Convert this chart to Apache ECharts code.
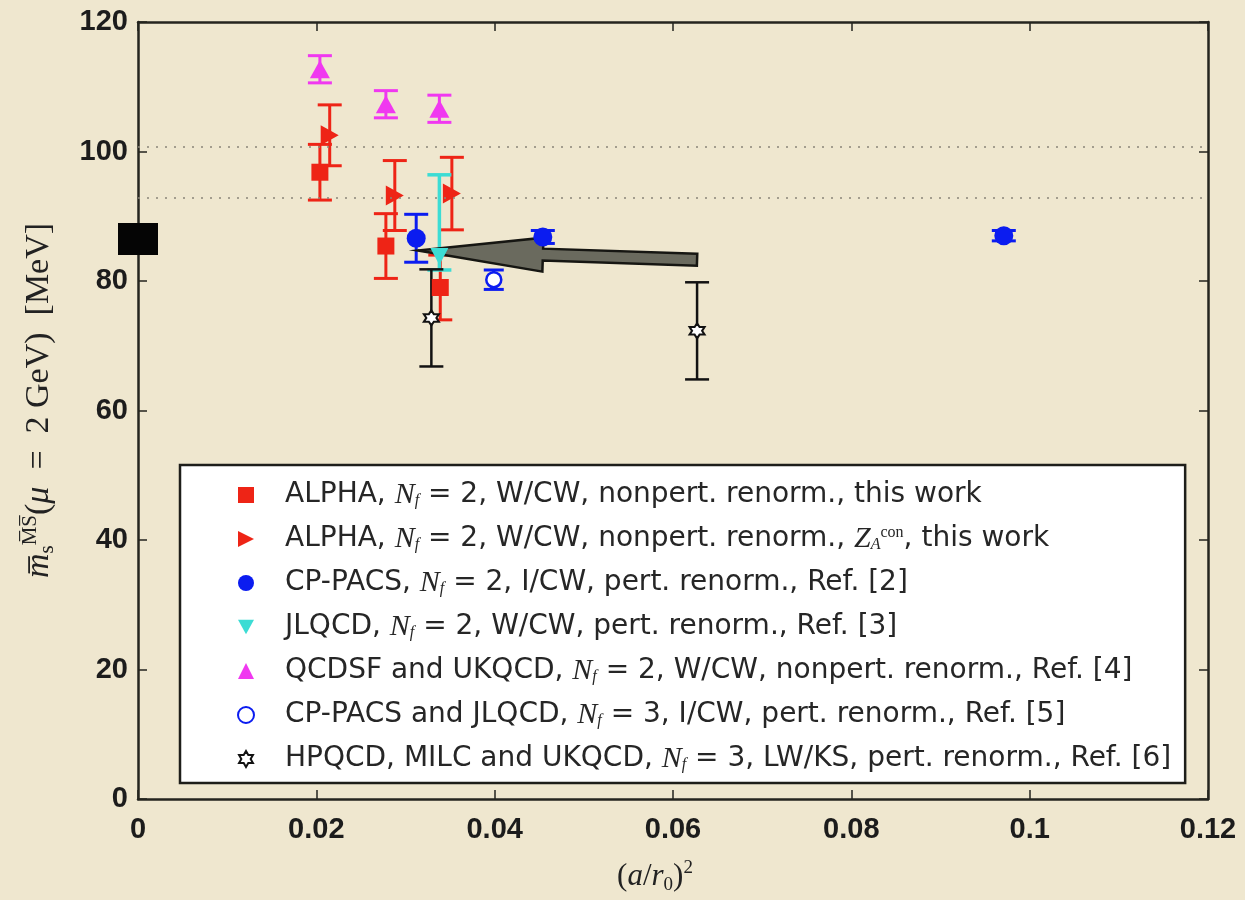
<!DOCTYPE html>
<html><head><meta charset="utf-8">
<script src="https://cdn.jsdelivr.net/npm/echarts@6/dist/echarts.min.js"></script>
<style>html,body{margin:0;padding:0;background:#efe7cf}#c{width:1245px;height:900px}</style>
</head><body><div id="c"></div>
<script>
// ---- data ----
const alphaX = [0.0204, 0.0278, 0.0339];
const alphaY = [96.8, 85.4, 79.0];
const alphaErr = [4.3, 5.0, 5.0];

const alphaZX = [0.0215, 0.0288, 0.0352];
const alphaZY = [102.5, 93.2, 93.5];
const alphaZErr = [4.7, 5.4, 5.6];

const cppacsX = [0.0312, 0.0454, 0.0971];
const cppacsY = [86.6, 86.8, 87.0];
const cppacsErr = [3.7, 1.0, 0.8];

const jlqcdX = [0.0338];
const jlqcdY = [83.8];
const jlqcdErrLo = [2.1];
const jlqcdErrHi = [12.6];

const qcdsfX = [0.0204, 0.0278, 0.0338];
const qcdsfY = [112.7, 107.3, 106.6];
const qcdsfErr = [2.1, 2.1, 2.1];

const nf3X = [0.0399];
const nf3Y = [80.2];
const nf3Err = [1.5];

const hpqcdX = [0.0329, 0.0627];
const hpqcdY = [74.3, 72.3];
const hpqcdErr = [7.5, 7.5];

const continuumX = [0];
const continuumY = [86.5];

const refLines = [100.7, 92.9];
const arrowFromTo = [[0.0627, 83.3, 0.0314, 84.7]];

const xTickLabels = ['0', '0.02', '0.04', '0.06', '0.08', '0.1', '0.12'];

const seriesNames = [
  'ALPHA, Nf=2, W/CW, nonpert. renorm., this work',
  'ALPHA, Nf=2, W/CW, nonpert. renorm., ZA con, this work',
  'CP-PACS, Nf=2, I/CW, pert. renorm., Ref. [2]',
  'JLQCD, Nf=2, W/CW, pert. renorm., Ref. [3]',
  'QCDSF and UKQCD, Nf=2, W/CW, nonpert. renorm., Ref. [4]',
  'CP-PACS and JLQCD, Nf=3, I/CW, pert. renorm., Ref. [5]',
  'HPQCD, MILC and UKQCD, Nf=3, LW/KS, pert. renorm., Ref. [6]'
];
const legendRich = [
  '{p|ALPHA, }{i|N}{sub|f}{t| = 2, W/CW, nonpert. renorm., this work}',
  '{p|ALPHA, }{i|N}{sub|f}{t| = 2, W/CW, nonpert. renorm., }{i|Z}{sub|A}{sup|con}{t|, this work}',
  '{p|CP-PACS, }{i|N}{sub|f}{t| = 2, I/CW, pert. renorm., Ref. [2]}',
  '{p|JLQCD, }{i|N}{sub|f}{t| = 2, W/CW, pert. renorm., Ref. [3]}',
  '{p|QCDSF and UKQCD, }{i|N}{sub|f}{t| = 2, W/CW, nonpert. renorm., Ref. [4]}',
  '{p|CP-PACS and JLQCD, }{i|N}{sub|f}{t| = 3, I/CW, pert. renorm., Ref. [5]}',
  '{p|HPQCD, MILC and UKQCD, }{i|N}{sub|f}{t| = 3, LW/KS, pert. renorm., Ref. [6]}'
];

// ---- helpers ----
const pts = (xs, ys) => xs.map((x, i) => [x, ys[i]]);
const errPts = (xs, ys, lo, hi) => xs.map((x, i) => [x, ys[i], lo[i], (hi || lo)[i]]);

const C = {red: '#ee2416', blue: '#0b1cf0', cyan: '#3cdcd4', mag: '#f038f0', black: '#121212'};

function errorBar(name, data, color, capHalf, width) {
  return {
    type: 'custom', name: name, z: 2, silent: true,
    encode: {x: 0, y: 1},
    data: data,
    renderItem: function (params, api) {
      const x = api.value(0), y = api.value(1), lo = api.value(2), hi = api.value(3);
      const top = api.coord([x, y + hi]);
      const bot = api.coord([x, y - lo]);
      const st = {stroke: color, lineWidth: width};
      return {type: 'group', children: [
        {type: 'line', shape: {x1: top[0], y1: top[1], x2: bot[0], y2: bot[1]}, style: st},
        {type: 'line', shape: {x1: top[0] - capHalf, y1: top[1], x2: top[0] + capHalf, y2: top[1]}, style: st},
        {type: 'line', shape: {x1: bot[0] - capHalf, y1: bot[1], x2: bot[0] + capHalf, y2: bot[1]}, style: st}
      ]};
    }
  };
}

const triRight = 'path://M0,0 L10,5 L0,10 Z';
const triDown = 'path://M0,0 L10,0 L5,9 Z';
const star6 = 'path://M5,0 L6.44,2.5 L9.33,2.5 L7.89,5 L9.33,7.5 L6.44,7.5 L5,10 L3.56,7.5 L0.67,7.5 L2.11,5 L0.67,2.5 L3.56,2.5 Z';

const chart = echarts.init(document.getElementById('c'), null, {renderer: 'canvas'});

const axisFont = {fontFamily: 'Liberation Sans', fontSize: 29, fontWeight: 'bold', color: '#1c1c1c'};
const serif = 'Liberation Serif';
const axisLineStyle = {color: '#25251f', width: 2.5};
const tickStyle = {show: true, inside: true, length: 9, lineStyle: {color: '#25251f', width: 1.5}};

const option = {
  backgroundColor: '#efe7cf',
  animation: false,
  grid: {left: 138, right: 37, top: 22, bottom: 100},
  xAxis: [{
    type: 'value', min: 0, max: 0.12, interval: 0.02,
    axisLine: {show: true, onZero: false, lineStyle: axisLineStyle},
    axisTick: tickStyle,
    splitLine: {show: false},
    axisLabel: Object.assign({margin: 16, formatter: (v, i) => xTickLabels[i]}, axisFont),
    name: '{t|(}{i|a}{t|/}{i|r}{sub|0}{t|)}{sup|2}',
    nameLocation: 'middle', nameGap: 60,
    nameTextStyle: {
      padding: [0, 36, 0, 0],
      rich: {
        t: {fontFamily: serif, fontSize: 31, color: '#222', lineHeight: 36},
        i: {fontFamily: serif, fontSize: 31, fontStyle: 'italic', color: '#222', lineHeight: 36},
        sub: {fontFamily: serif, fontSize: 19, color: '#222', lineHeight: 14, verticalAlign: 'bottom'},
        sup: {fontFamily: serif, fontSize: 19, color: '#222', lineHeight: 14, verticalAlign: 'top'}
      }
    }
  }, {
    type: 'value', position: 'top', min: 0, max: 0.12, interval: 0.02,
    axisLine: {show: true, onZero: false, lineStyle: axisLineStyle},
    axisTick: tickStyle,
    axisLabel: {show: false}, splitLine: {show: false}
  }],
  yAxis: [{
    type: 'value', min: 0, max: 120, interval: 20,
    axisLine: {show: true, onZero: false, lineStyle: axisLineStyle},
    axisTick: tickStyle,
    splitLine: {show: false},
    axisLabel: Object.assign({margin: 10}, axisFont),
    name: '{i|m\u0305}{sub|s}{sup|M\u0305S\u0305}{t|(}{i|\u03bc}{t|  =  2 GeV)  [MeV]}',
    nameLocation: 'middle', nameRotate: 90, nameGap: 80,
    nameTextStyle: {
      padding: [0, 0, 0, 20],
      rich: {
        t: {fontFamily: serif, fontSize: 34, color: '#222', lineHeight: 38},
        i: {fontFamily: serif, fontSize: 34, fontStyle: 'italic', color: '#222', lineHeight: 38},
        sub: {fontFamily: serif, fontSize: 21, color: '#222', lineHeight: 14, verticalAlign: 'bottom'},
        sup: {fontFamily: serif, fontSize: 21, color: '#222', lineHeight: 14, verticalAlign: 'top'}
      }
    }
  }, {
    type: 'value', position: 'right', min: 0, max: 120, interval: 20,
    axisLine: {show: true, onZero: false, lineStyle: axisLineStyle},
    axisTick: tickStyle,
    axisLabel: {show: false}, splitLine: {show: false}
  }],
  legend: {
    orient: 'vertical', left: 180, top: 465,
    padding: [15, 14, 9, 57],
    itemWidth: 16, itemHeight: 16, itemGap: 14,
    backgroundColor: '#ffffff', borderColor: '#1e1e1a', borderWidth: 2.5, borderRadius: 0,
    data: seriesNames,
    formatter: function (name) { return legendRich[seriesNames.indexOf(name)]; },
    textStyle: {
      fontFamily: 'DejaVu Sans', fontSize: 28, color: '#262626',
      rich: {
        p: {fontFamily: 'DejaVu Sans', fontSize: 28, color: '#262626', padding: [0, 0, 0, 26], lineHeight: 28},
        t: {fontFamily: 'DejaVu Sans', fontSize: 28, color: '#262626', lineHeight: 28},
        i: {fontFamily: serif, fontSize: 30, fontStyle: 'italic', color: '#262626', lineHeight: 28},
        sub: {fontFamily: serif, fontSize: 16, fontStyle: 'italic', color: '#262626', lineHeight: 12, verticalAlign: 'bottom'},
        sup: {fontFamily: serif, fontSize: 16, color: '#262626', lineHeight: 12, verticalAlign: 'top'}
      }
    }
  },
  series: [
    // reference dotted lines
    {
      type: 'line', name: 'ref', data: [], silent: true, z: 1,
      markLine: {
        silent: true, symbol: 'none', label: {show: false},
        lineStyle: {type: [2, 7], color: '#8a857a', width: 1.6},
        data: refLines.map(v => ({yAxis: v}))
      }
    },
    // error bars
    errorBar('e1', errPts(alphaX, alphaY, alphaErr), C.red, 12, 3),
    errorBar('e2', errPts(alphaZX, alphaZY, alphaZErr), C.red, 12, 3),
    errorBar('e3', errPts(cppacsX, cppacsY, cppacsErr), C.blue, 12, 3),
    errorBar('e4', errPts(jlqcdX, jlqcdY, jlqcdErrLo, jlqcdErrHi), C.cyan, 12, 3.5),
    errorBar('e5', errPts(qcdsfX, qcdsfY, qcdsfErr), C.mag, 12, 3),
    errorBar('e6', errPts(nf3X, nf3Y, nf3Err), C.blue, 10, 3),
    errorBar('e7', errPts(hpqcdX, hpqcdY, hpqcdErr), C.black, 12, 2.5),
    // arrow
    {
      type: 'custom', name: 'arrow', z: 2.5, silent: true,
      encode: {x: [0, 2], y: [1, 3]},
      data: arrowFromTo,
      renderItem: function (params, api) {
        const tail = api.coord([api.value(0), api.value(1)]);
        const tip = api.coord([api.value(2), api.value(3)]);
        const dx = tip[0] - tail[0], dy = tip[1] - tail[1];
        const L = Math.sqrt(dx * dx + dy * dy);
        const ux = dx / L, uy = dy / L, nx = -uy, ny = ux;
        const headLen = 125, headHalf = 17, shaftHalf = 6;
        const bx = tip[0] - ux * headLen, by = tip[1] - uy * headLen;
        const p = (x, y, s) => [x + nx * s, y + ny * s];
        const points = [
          p(tail[0], tail[1], shaftHalf), p(bx, by, shaftHalf), p(bx, by, headHalf),
          tip, p(bx, by, -headHalf), p(bx, by, -shaftHalf), p(tail[0], tail[1], -shaftHalf)
        ];
        return {type: 'polygon', shape: {points: points},
          style: {fill: '#6a6a5e', stroke: '#161612', lineWidth: 2.5, lineJoin: 'miter'}};
      }
    },
    // continuum band marker at x = 0
    {
      type: 'scatter', name: 'continuum', data: pts(continuumX, continuumY),
      symbol: 'rect', symbolSize: [40, 32], clip: false, z: 3,
      itemStyle: {color: '#050505', opacity: 1}, silent: true
    },
    // markers
    {type: 'scatter', name: seriesNames[0], data: pts(alphaX, alphaY), symbol: 'rect', symbolSize: 17, z: 3,
      itemStyle: {color: C.red, opacity: 1}},
    {type: 'scatter', name: seriesNames[1], data: pts(alphaZX, alphaZY), symbol: triRight, symbolSize: [18, 20], z: 3,
      itemStyle: {color: C.red, opacity: 1}},
    {type: 'scatter', name: seriesNames[2], data: pts(cppacsX, cppacsY), symbol: 'circle', symbolSize: 19, z: 3,
      itemStyle: {color: C.blue, opacity: 1}},
    {type: 'scatter', name: seriesNames[3], data: pts(jlqcdX, jlqcdY), symbol: triDown, symbolSize: [18, 17], z: 3,
      itemStyle: {color: C.cyan, opacity: 1}},
    {type: 'scatter', name: seriesNames[4], data: pts(qcdsfX, qcdsfY), symbol: 'triangle', symbolSize: [20, 18], z: 3,
      itemStyle: {color: C.mag, opacity: 1}},
    {type: 'scatter', name: seriesNames[5], data: pts(nf3X, nf3Y), symbol: 'circle', symbolSize: 15, z: 3,
      itemStyle: {color: '#ffffff', borderColor: C.blue, borderWidth: 2.5, opacity: 1}},
    {type: 'scatter', name: seriesNames[6], data: pts(hpqcdX, hpqcdY), symbol: star6, symbolSize: 15, z: 3,
      itemStyle: {color: '#ffffff', borderColor: C.black, borderWidth: 2, opacity: 1}}
  ]
};
chart.setOption(option);
</script>
</body></html>
